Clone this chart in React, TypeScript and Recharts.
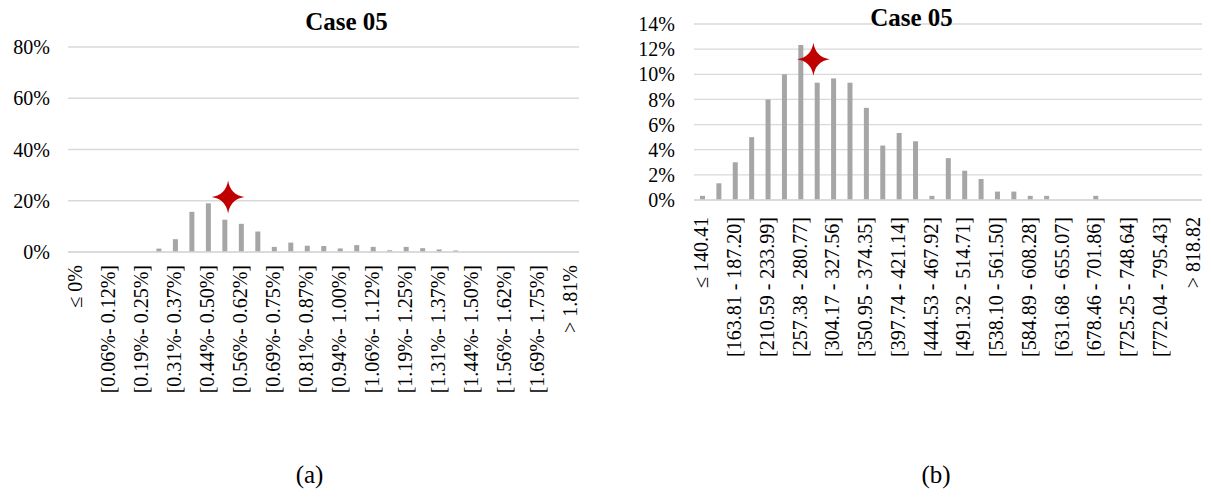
import { BarChart, Bar, XAxis, YAxis, CartesianGrid, ReferenceDot } from 'recharts';

const leftLabels = [
  '≤ 0%', '[0.00%- 0.06%]', '[0.06%- 0.12%]', '[0.12%- 0.19%]', '[0.19%- 0.25%]',
  '[0.25%- 0.31%]', '[0.31%- 0.37%]', '[0.37%- 0.44%]', '[0.44%- 0.50%]', '[0.50%- 0.56%]',
  '[0.56%- 0.62%]', '[0.62%- 0.69%]', '[0.69%- 0.75%]', '[0.75%- 0.81%]', '[0.81%- 0.87%]',
  '[0.87%- 0.94%]', '[0.94%- 1.00%]', '[1.00%- 1.06%]', '[1.06%- 1.12%]', '[1.12%- 1.19%]',
  '[1.19%- 1.25%]', '[1.25%- 1.31%]', '[1.31%- 1.37%]', '[1.37%- 1.44%]', '[1.44%- 1.50%]',
  '[1.50%- 1.56%]', '[1.56%- 1.62%]', '[1.62%- 1.69%]', '[1.69%- 1.75%]', '[1.75%- 1.81%]',
  '> 1.81%'
];
const leftValues = [
  0, 0, 0, 0, 0, 1.33, 5, 15.67, 19, 12.6, 11, 8, 2, 3.67, 2.45, 2.35,
  1.4, 2.7, 2, 0.67, 2, 1.5, 1, 0.6, 0, 0, 0, 0, 0, 0, 0
];
const leftTicks = [0, 20, 40, 60, 80];

const rightLabels = [
  '≤ 140.41', '[140.41 - 163.81]', '[163.81 - 187.20]', '[187.20 - 210.59]', '[210.59 - 233.99]',
  '[233.99 - 257.38]', '[257.38 - 280.77]', '[280.77 - 304.17]', '[304.17 - 327.56]', '[327.56 - 350.95]',
  '[350.95 - 374.35]', '[374.35 - 397.74]', '[397.74 - 421.14]', '[421.14 - 444.53]', '[444.53 - 467.92]',
  '[467.92 - 491.32]', '[491.32 - 514.71]', '[514.71 - 538.10]', '[538.10 - 561.50]', '[561.50 - 584.89]',
  '[584.89 - 608.28]', '[608.28 - 631.68]', '[631.68 - 655.07]', '[655.07 - 678.46]', '[678.46 - 701.86]',
  '[701.86 - 725.25]', '[725.25 - 748.64]', '[748.64 - 772.04]', '[772.04 - 795.43]', '[795.43 - 818.82]',
  '> 818.82'
];
const rightValues = [
  0.33, 1.33, 3, 5, 8, 10, 12.33, 9.33, 9.67, 9.33, 7.33, 4.33, 5.33, 4.67, 0.33, 3.33,
  2.33, 1.67, 0.67, 0.67, 0.33, 0.33, 0, 0, 0.33, 0, 0, 0, 0, 0, 0
];
const rightTicks = [0, 2, 4, 6, 8, 10, 12, 14];

// red star markers (category, percent)
const leftMarker = { x: leftLabels[9], y: 21.5 };
const rightMarker = { x: rightLabels[7], y: 11.2 };

const leftData = leftLabels.map((label, i) => ({ label, value: leftValues[i] }));
const rightData = rightLabels.map((label, i) => ({ label, value: rightValues[i] }));

const FONT = '"Liberation Serif", "Times New Roman", serif';
const GRID = '#d9d9d9';
const BAR = '#a6a6a6';

const RotatedTick = ({ x, y, payload, gap }: any) => (
  <text
    transform={`translate(${x + 6},${y + gap}) rotate(-90)`}
    textAnchor="end"
    fontSize={20}
    fontFamily={FONT}
    fill="#000"
  >
    {payload.value}
  </text>
);

const Star = ({ cx, cy, dx = 0 }: any) => {
  const R = 16.5;
  const k = 2.2;
  const x = cx + dx;
  const d = `M${x},${cy - R} Q${x + k},${cy - k} ${x + R},${cy} Q${x + k},${cy + k} ${x},${cy + R} ` +
    `Q${x - k},${cy + k} ${x - R},${cy} Q${x - k},${cy - k} ${x},${cy - R} Z`;
  return <path d={d} fill="#c00000" />;
};

const yTick = { fontSize: 20, fontFamily: FONT, fill: '#000' };

const App = () => {
  return (
    <div style={{ position: 'absolute', left: 0, top: 0, width: 1211, height: 497, background: '#fff' }}>
      <div style={{ position: 'absolute', left: 0, top: 0 }}>
        <BarChart width={600} height={420} data={leftData} margin={{ top: 47, right: 21, left: 0, bottom: 8 }}>
          <CartesianGrid vertical={false} stroke={GRID} strokeWidth={1.3} />
          <XAxis
            dataKey="label"
            interval={1}
            height={160}
            tickLine={false}
            axisLine={{ stroke: GRID, strokeWidth: 1.3 }}
            tick={(p: any) => <RotatedTick {...p} gap={5} />}
          />
          <YAxis
            width={68}
            domain={[0, 80]}
            ticks={leftTicks}
            interval={0}
            tickFormatter={(v) => `${v}%`}
            axisLine={false}
            tickLine={false}
            tickMargin={12}
            tick={yTick}
          />
          <Bar dataKey="value" fill={BAR} barSize={5} isAnimationActive={false} />
          <ReferenceDot x={leftMarker.x} y={leftMarker.y} shape={(p: any) => <Star {...p} dx={3.5} />} />
        </BarChart>
      </div>
      <div style={{ position: 'absolute', left: 600, top: 0 }}>
        <BarChart width={611} height={420} data={rightData} margin={{ top: 24, right: 9, left: 0, bottom: 20 }}>
          <CartesianGrid vertical={false} stroke={GRID} strokeWidth={1.3} />
          <XAxis
            dataKey="label"
            interval={1}
            height={200}
            tickLine={false}
            axisLine={{ stroke: GRID, strokeWidth: 1.3 }}
            tick={(p: any) => <RotatedTick {...p} gap={9} />}
          />
          <YAxis
            width={94}
            domain={[0, 14]}
            ticks={rightTicks}
            interval={0}
            tickFormatter={(v) => `${v}%`}
            axisLine={false}
            tickLine={false}
            tickMargin={13}
            tick={yTick}
          />
          <Bar dataKey="value" fill={BAR} barSize={5} isAnimationActive={false} />
          <ReferenceDot x={rightMarker.x} y={rightMarker.y} shape={(p: any) => <Star {...p} dx={-3.5} />} />
        </BarChart>
      </div>
      <svg width={1211} height={497} style={{ position: 'absolute', left: 0, top: 0, pointerEvents: 'none' }}>
        <text x={346.5} y={30} textAnchor="middle" fontFamily={FONT} fontWeight="bold" fontSize={25} fill="#000">Case 05</text>
        <text x={911.5} y={26} textAnchor="middle" fontFamily={FONT} fontWeight="bold" fontSize={25} fill="#000">Case 05</text>
        <text x={309.5} y={483} textAnchor="middle" fontFamily={FONT} fontSize={25} fill="#000">(a)</text>
        <text x={936} y={483} textAnchor="middle" fontFamily={FONT} fontSize={25} fill="#000">(b)</text>
      </svg>
    </div>
  );
};

export default App;
